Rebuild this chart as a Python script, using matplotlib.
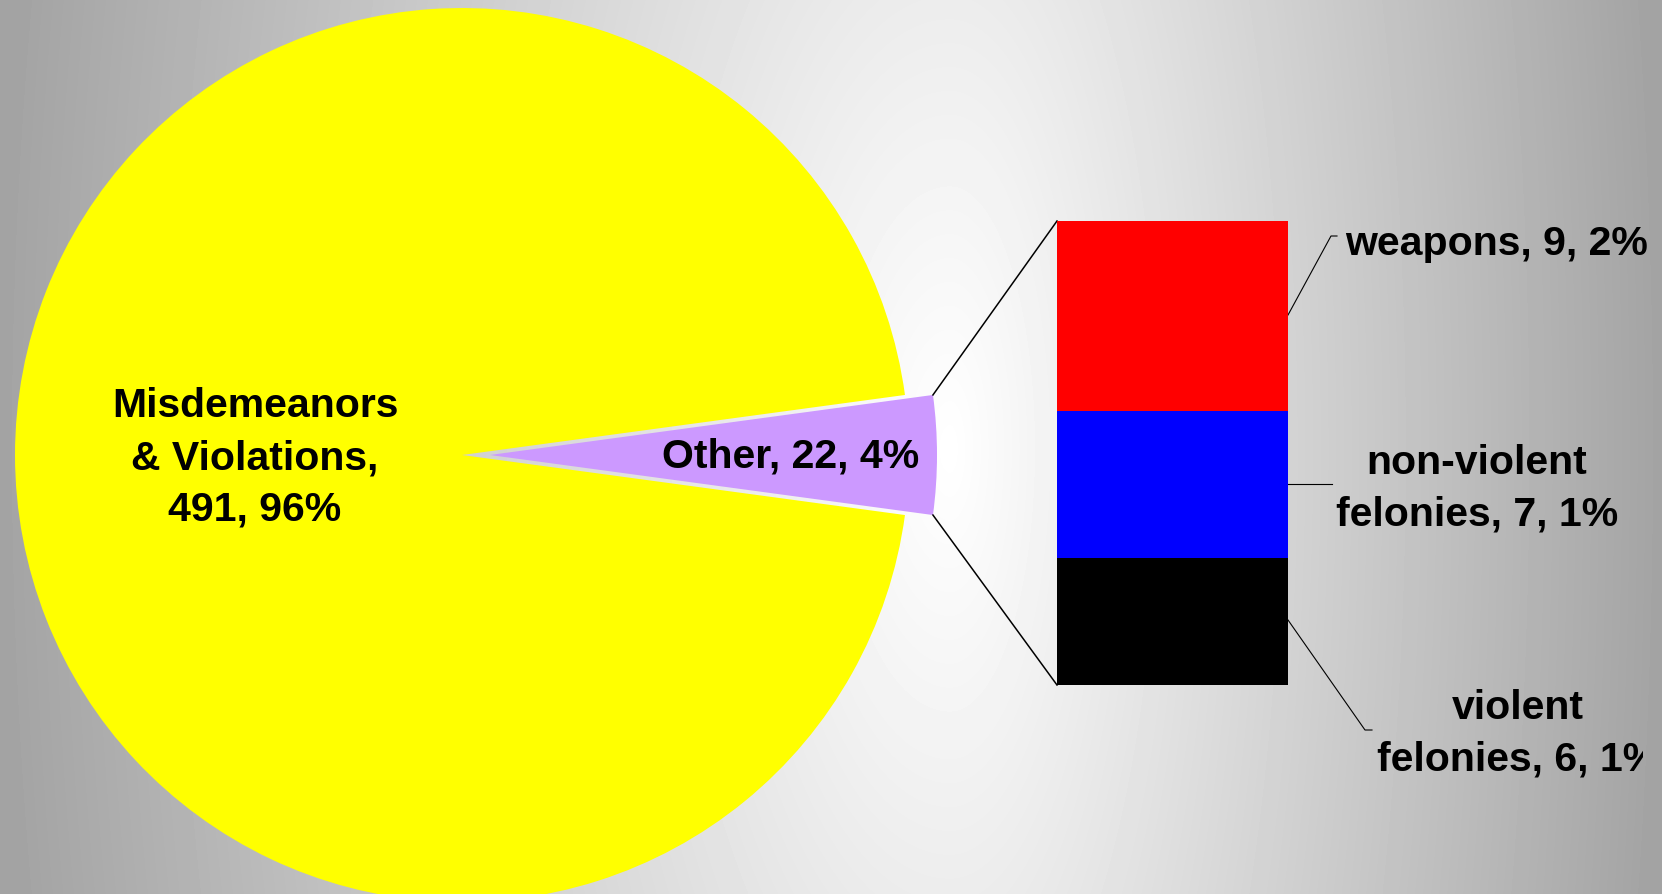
import matplotlib.pyplot as plt
import numpy as np
from matplotlib.transforms import Bbox, TransformedBbox

plt.rcParams['font.family'] = ['Liberation Sans', 'DejaVu Sans']

# pie part
pie_labels = ['Misdemeanors\n& Violations,\n491, 96%', 'Other, 22, 4%']
pie_values = [491, 22]
pie_colors = ['#ffff00', '#cc99ff']

# breakdown of "Other" (bottom to top)
bar_labels = ['violent\nfelonies, 6, 1%', 'non-violent\nfelonies, 7, 1%', 'weapons, 9, 2%']
bar_values = [6, 7, 9]
bar_colors = ['#000000', '#0000ff', '#ff0000']

W, H = 1662, 895
fig = plt.figure(figsize=(W / 100, H / 100), dpi=100)
ax = fig.add_axes([0, 0, 1, 1])

# grey-white-grey background
xx, yy = np.meshgrid(np.arange(W) + 0.5, np.arange(H) + 0.5)
xc, yc = 950, 450
sx = np.where(xx < xc, xc, W - xc)
t = np.clip(np.hypot((xx - xc) / sx, (yy - yc) / 2200), 0, 1)
ax.imshow(1 - 0.36 * t, cmap='gray', vmin=0, vmax=1, extent=(0, W, H, 0),
          zorder=0, interpolation='bilinear')

# other slice centred on 0 deg
frac = pie_values[1] / sum(pie_values) * 360
cx, cy, r = 462, 456, 447
wedges, _ = ax.pie(pie_values, colors=pie_colors, startangle=frac / 2,
                   center=(cx, cy), radius=r, explode=[0, 28],
                   wedgeprops=dict(edgecolor='none', linewidth=0))
for w in wedges:
    w.set_zorder(2)

ax.set_xlim(0, W)
ax.set_ylim(H, 0)
ax.set_aspect('auto')
ax.axis('off')

fs = 29.5
ls = 1.46
ax.text(255, 458, pie_labels[0], ha='center', va='center', fontsize=fs,
        fontweight='bold', linespacing=ls, zorder=5)
ax.text(791, 456, pie_labels[1], ha='center', va='center', fontsize=fs,
        fontweight='bold', zorder=5)

# stacked bar
bx0, bx1, by0, by1 = 1057, 1288, 222, 686
bax = fig.add_axes([bx0 / W, 1 - by1 / H, (bx1 - bx0) / W, (by1 - by0) / H])
bottoms = np.concatenate([[0], np.cumsum(bar_values)[:-1]])
bax.bar(0, bar_values, bottom=bottoms, color=bar_colors, width=1)
bax.set_xlim(-0.5, 0.5)
bax.set_ylim(0, sum(bar_values))
bax.axis('off')

# lines from the slice to the bar
a = np.radians(frac / 2)
ox = cx + 28 + r * np.cos(a)
ax.plot([ox, bx0], [cy - r * np.sin(a), by0], color='black', lw=1.1, zorder=3)
ax.plot([ox, bx0], [cy + r * np.sin(a), by1], color='black', lw=1.1, zorder=3)

# leader lines
ax.plot([1288, 1331, 1337], [316, 237, 237], color='black', lw=0.8)
ax.plot([1288, 1332], [485, 485], color='black', lw=0.8)
ax.plot([1288, 1365, 1372], [621, 731, 731], color='black', lw=0.8)

ax.text(1497, 244, bar_labels[2], ha='center', va='center', fontsize=fs,
        fontweight='bold')
ax.text(1477, 489, bar_labels[1], ha='center', va='center', fontsize=fs,
        fontweight='bold', linespacing=ls)
tv = ax.text(1518, 734, bar_labels[0], ha='center', va='center', fontsize=fs,
             fontweight='bold', linespacing=ls, clip_on=True)
tv.set_clip_box(TransformedBbox(Bbox.from_extents(0, 0, 1643, H), ax.transData))

fig.savefig('out.png', dpi=100)
